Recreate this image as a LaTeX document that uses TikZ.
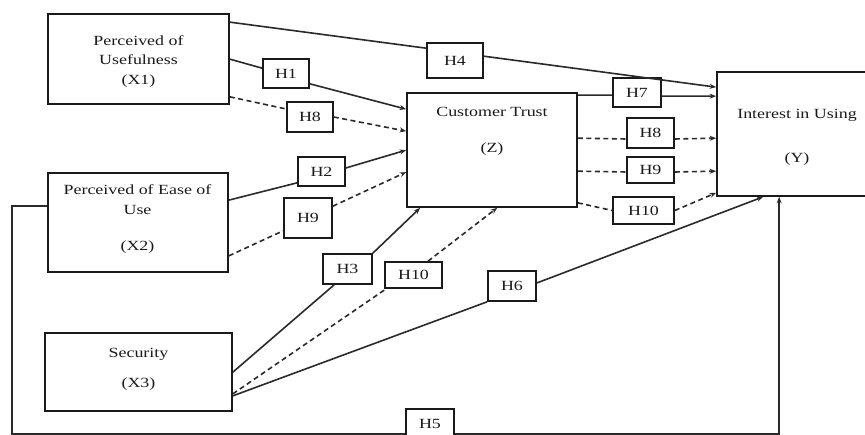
\documentclass[tikz,border=0pt]{standalone}
\usepackage{fontspec}
\setmainfont{Liberation Serif}[FakeStretch=1.28]
\usetikzlibrary{arrows.meta,calc}
\definecolor{ink}{HTML}{1A1A1A}
\definecolor{wire}{HTML}{2A2A2A}
\begin{document}
\begin{tikzpicture}[x=1pt,y=-1pt,
  varbox/.style={draw=ink,line width=1.7pt,fill=white,inner sep=0pt,rectangle},
  hyp/.style={draw=ink,line width=1.6pt,fill=white,inner sep=0pt,rectangle,
    font=\fontsize{14}{16}\selectfont,text=ink},
  caption/.style={anchor=base,inner sep=0pt,font=\fontsize{14}{16}\selectfont,text=ink},
  conn/.style={draw=wire,line width=1.6pt},
  dconn/.style={conn,dash pattern=on 5pt off 3.5pt},
  tip/.style={-{Stealth[length=6.5pt,width=5pt]}}]
\useasboundingbox (0,0) rectangle (865,435);
\clip (0,0) rectangle (865,435);
\fill[white] (0,0) rectangle (865,435);

% construct boxes
\node[varbox,minimum width=181pt,minimum height=90pt]  (x1) at (138.5,59) {};
\node[varbox,minimum width=180pt,minimum height=99pt]  (x2) at (138,222.5) {};
\node[varbox,minimum width=187pt,minimum height=78pt]  (x3) at (138.5,372) {};
\node[varbox,minimum width=170pt,minimum height=114pt] (z)  at (492,150) {};
\node[varbox,minimum width=168pt,minimum height=124pt] (y)  at (801,134) {};

% construct names
\node[caption] (x1a) at (138.5,46) {Perceived of};
\node[caption] (x1b) at (138.5,65) {Usefulness};
\node[caption] (x1c) at (138.5,85) {(X1)};
\node[caption] (x2a) at (137.5,195) {Perceived of Ease of};
\node[caption] (x2b) at (137.5,215) {Use};
\node[caption] (x2c) at (137.5,251) {(X2)};
\node[caption] (x3a) at (138.5,358) {Security};
\node[caption] (x3b) at (138.5,388) {(X3)};
\node[caption] (za)  at (492,117) {Customer Trust};
\node[caption] (zb)  at (492,153) {(Z)};
\node[caption] (ya)  at (797,119) {Interest in Using};
\node[caption] (yb)  at (797,163) {(Y)};

% hypothesis labels
\node[hyp,minimum width=56pt,minimum height=35pt] (h4)  at (455,60.5) {H4};
\node[hyp,minimum width=46pt,minimum height=29pt] (h1)  at (286,73.5) {H1};
\node[hyp,minimum width=46pt,minimum height=30pt] (h8a) at (310,117) {H8};
\node[hyp,minimum width=47pt,minimum height=29pt] (h2)  at (321.5,171.5) {H2};
\node[hyp,minimum width=48pt,minimum height=40pt] (h9a) at (308,218) {H9};
\node[hyp,minimum width=49pt,minimum height=30pt] (h3)  at (347.5,269) {H3};
\node[hyp,minimum width=57pt,minimum height=26pt] (h10a) at (413.5,275) {H10};
\node[hyp,minimum width=48pt,minimum height=30pt] (h6)  at (512,286) {H6};
\node[hyp,minimum width=48pt,minimum height=30pt] (h5)  at (430,424) {H5};
\node[hyp,minimum width=48pt,minimum height=29pt] (h7)  at (637,92.5) {H7};
\node[hyp,minimum width=47pt,minimum height=30pt] (h8b) at (650.5,133) {H8};
\node[hyp,minimum width=47pt,minimum height=26pt] (h9b) at (650.5,170) {H9};
\node[hyp,minimum width=61pt,minimum height=27pt] (h10b) at (643.5,210.5) {H10};

% X1 paths
\draw[conn] ($(x1.north east)+(0,9)$) -- ($(h4.north west)+(0,6)$);
\draw[conn,tip] ($(h4.north east)+(0,14)$) -- ($(y.north west)+(0,16)$);
\draw[conn] ($(x1.north east)+(0,46)$) -- ($(h1.north west)+(0,10)$);
\draw[conn,tip] ($(h1.south east)+(0,-5)$) -- ($(z.north west)+(0,17)$);
\draw[dconn] ($(x1.south east)+(0,-8)$) -- ($(h8a.west)+(0,-8)$);
\draw[dconn,tip] (h8a.east) -- ($(z.north west)+(0,39)$);

% X2 paths
\draw[conn] ($(x2.north east)+(0,28)$) -- ($(h2.south west)+(0,-4)$);
\draw[conn,tip] ($(h2.east)+(0,-3.5)$) -- ($(z.north west)+(0,58)$);
\draw[dconn] ($(x2.south east)+(0,-17)$) -- ($(h9a.south west)+(0,-8)$);
\draw[dconn,tip] ($(h9a.north east)+(0,9)$) -- ($(z.north west)+(0,80)$);

% X3 paths
\draw[conn] ($(x3.north east)+(0,40)$) -- ($(h3.south west)+(12,0)$);
\draw[conn,tip] (h3.north east) -- ($(z.south west)+(14,0)$);
\draw[dconn] ($(x3.south east)+(0,-18)$) -- ($(h10a.south west)+(2,0)$);
\draw[dconn,tip] ($(h10a.north)+(14.5,0)$) -- ($(z.south west)+(91,0)$);
\draw[conn] ($(x3.south east)+(0,-16)$) -- (h6.south west);
\draw[conn,tip] ($(h6.east)+(0,-3)$) -- ($(y.south west)+(47,0)$);

% Z paths
\draw[conn] ($(z.north east)+(0,3)$) -- ($(h7.north west)+(0,18)$);
\draw[conn,tip] ($(h7.north east)+(0,19)$) -- ($(y.north west)+(0,25)$);
\draw[dconn] ($(z.north east)+(0,46)$) -- ($(h8b.west)+(0,6)$);
\draw[dconn,tip] ($(h8b.east)+(0,6)$) -- ($(y.north west)+(0,67)$);
\draw[dconn] ($(z.north east)+(0,79)$) -- ($(h9b.west)+(0,2)$);
\draw[dconn,tip] ($(h9b.east)+(0,2)$) -- ($(y.north west)+(0,100)$);
\draw[dconn] ($(z.south east)+(0,-5)$) -- (h10b.west);
\draw[dconn,tip] (h10b.east) -- ($(y.south west)+(0,-4)$);

% X2 to Y around the bottom
\coordinate (c1) at (12,434);
\coordinate (c2) at ($(y.south west)+(63,0)$);
\draw[conn] ($(x2.north west)+(0,34)$) -| (c1) -- (c1 -| h5.west);
\draw[conn,tip] (c1 -| h5.east) -| (c2);
\end{tikzpicture}
\end{document}
